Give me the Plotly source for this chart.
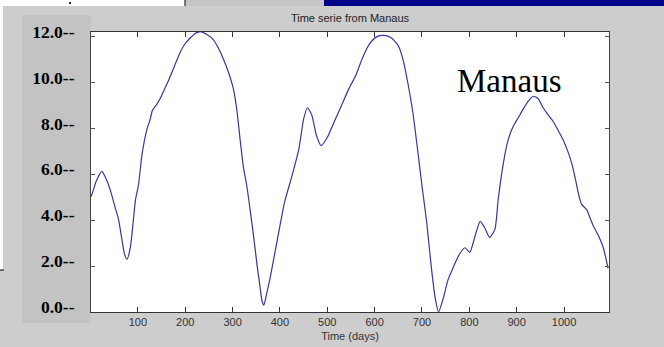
import plotly.graph_objects as go

# Daily river level series, Manaus (read at irregular days)
days = [0, 3, 12, 24, 33, 42, 52, 59, 66, 72, 77, 84, 90, 95, 101, 109, 119, 126, 131,
        140, 147, 156, 165, 177, 189, 200, 211, 222, 232, 245, 260, 270, 281, 292, 302,
        309, 316, 323, 330, 338, 345, 352, 358, 362, 366, 372, 379, 395, 410, 425, 440,
        450, 458, 467, 477, 487, 500, 515, 530, 545, 560, 575, 590, 605, 620, 635, 650,
        660, 670, 680, 690, 700, 710, 720, 728, 735, 745, 755, 765, 780, 791, 801, 812,
        823, 833, 843, 854, 861, 872, 882, 893, 903, 914, 925, 935, 945, 956, 966, 977,
        988, 998, 1008, 1016, 1023, 1030, 1037, 1048, 1055, 1062, 1072, 1083, 1093]
level = [5.0, 5.12, 5.7, 6.13, 5.8, 5.3, 4.55, 4.05, 3.2, 2.5, 2.3, 2.8, 3.9, 4.9, 5.5,
         6.9, 7.95, 8.4, 8.8, 9.05, 9.3, 9.7, 10.1, 10.7, 11.3, 11.7, 11.95, 12.15, 12.22,
         12.1, 11.85, 11.5, 11.0, 10.4, 9.7, 8.8, 7.5, 6.3, 5.5, 4.3, 3.2, 2.0, 1.1, 0.5,
         0.3, 0.8, 1.45, 3.2, 4.8, 5.9, 7.1, 8.4, 8.9, 8.6, 7.7, 7.25, 7.6, 8.3, 9.0, 9.7,
         10.3, 11.1, 11.7, 12.0, 12.05, 11.95, 11.6, 11.0, 10.0, 8.8, 7.2, 5.5, 3.9, 1.9,
         0.6, 0.0, 0.6, 1.4, 1.9, 2.55, 2.8, 2.6, 3.3, 3.95, 3.65, 3.25, 3.6, 4.9, 6.5,
         7.5, 8.1, 8.45, 8.85, 9.2, 9.4, 9.3, 8.9, 8.6, 8.3, 7.9, 7.5, 7.0, 6.5, 5.9, 5.2,
         4.7, 4.45, 4.1, 3.75, 3.35, 2.8, 1.9]

x_ticks = [100, 200, 300, 400, 500, 600, 700, 800, 900, 1000]
y_ticks = [0, 2, 4, 6, 8, 10, 12]
y_labels = [f"{v:.1f}--" for v in y_ticks]

title_text = "Time serie from Manaus"
x_title = "Time (days)"
station = "Manaus"

W, H = 664, 347
L, R, T, B = 91, 55, 32, 35
PW, PH = W - L - R, H - T - B


def px_x(px):
    return (px - L) / PW


def px_y(py):
    return (H - B - py) / PH


def rect(x0, y0, x1, y1, color):
    return dict(type="rect", xref="paper", yref="paper",
                x0=px_x(x0), x1=px_x(x1), y0=px_y(y1), y1=px_y(y0),
                fillcolor=color, line=dict(width=0), layer="below")


def seg(x0, y0, x1, y1, color="black", w=1):
    return dict(type="line", xref="paper", yref="paper",
                x0=px_x(x0), x1=px_x(x1), y0=px_y(y0), y1=px_y(y1),
                line=dict(color=color, width=w), layer="above")


fig = go.Figure()
fig.add_trace(go.Scatter(x=days, y=level, mode="lines",
                         line=dict(color="#3636a0", width=1.2, shape="spline", smoothing=0.6),
                         hoverinfo="skip", showlegend=False))

shapes = [
    rect(0, 0, 3, 270, "white"),
    rect(0, 0, 185, 6, "white"),
    rect(186, 0, 324, 6, "#c6c6c6"),
    rect(324, 0, 664, 6, "#00008a"),
    rect(22, 15, 91, 323, "#c3c3c3"),
    seg(185, 0, 185, 6),
    seg(0, 270, 4, 270),
    rect(69, 2, 71, 4, "#222222"),
]

sans = "Liberation Sans, Arial, sans-serif"
serif = "Liberation Serif, Times New Roman, serif"

fig.update_layout(
    width=W, height=H,
    margin=dict(l=L, r=R, t=T, b=B, autoexpand=False),
    paper_bgcolor="#cdcdcd",
    plot_bgcolor="white",
    shapes=shapes,
    title=dict(text=title_text, x=0.5, xref="paper", xanchor="center",
               y=1 - 18 / H, yanchor="middle",
               font=dict(family=sans, size=11, color="#222222")),
    xaxis=dict(range=[1, 1095], tickvals=x_ticks, ticks="inside", ticklen=5,
               tickcolor="#333333", showline=True, linecolor="#333333", linewidth=1,
               mirror="ticks", showgrid=False, zeroline=False,
               tickfont=dict(family=sans, size=11, color="#333333"),
               title=dict(text=x_title, standoff=5,
                          font=dict(family=sans, size=11, color="#333333")),
               automargin=False),
    yaxis=dict(range=[0, 12.2], tickvals=y_ticks, ticktext=y_labels,
               ticks="inside", ticklen=4,
               tickcolor="#555555", showline=True, linecolor="#444444", linewidth=1,
               mirror="ticks", showgrid=False, zeroline=False,
               ticklabelstandoff=12, ticklabelshift=-5,
               tickfont=dict(family=serif, size=17.5, color="black", weight="bold"),
               automargin=False),
    annotations=[dict(text=station, xref="paper", yref="paper",
                      x=px_x(455), y=px_y(81), xanchor="left", yanchor="middle",
                      showarrow=False,
                      font=dict(family=serif, size=33, color="black"))],
)

fig.write_html("out.html")
